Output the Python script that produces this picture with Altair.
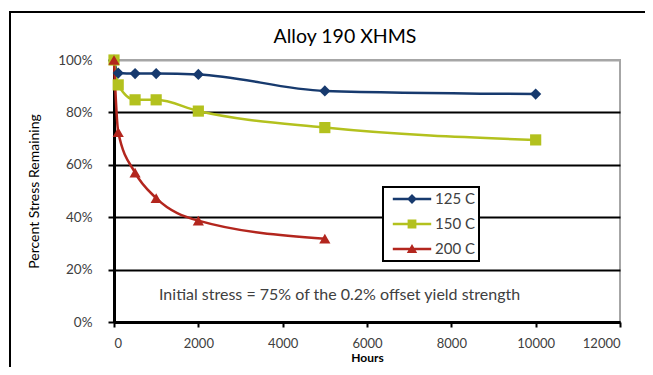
import altair as alt
import pandas as pd

# ---- data ----
hours_125 = [0, 100, 500, 1000, 2000, 5000, 10000]
vals_125 = [1.00, 0.95, 0.948, 0.948, 0.945, 0.882, 0.870]
hours_150 = [0, 100, 500, 1000, 2000, 5000, 10000]
vals_150 = [1.00, 0.905, 0.848, 0.848, 0.805, 0.742, 0.695]
hours_200 = [0, 100, 500, 1000, 2000, 5000]
vals_200 = [1.00, 0.725, 0.570, 0.473, 0.387, 0.318]
series_names = ["125 C", "150 C", "200 C"]
series_colors = ["#173a6e", "#b3c11e", "#b3261e"]
series_shapes = ["diamond", "square", "triangle-up"]

x_ticks = [0, 2000, 4000, 6000, 8000, 10000, 12000]
y_ticks = [0, 0.2, 0.4, 0.6, 0.8, 1.0]

title_text = "Alloy 190 XHMS"
x_title = "Hours"
y_title = "Percent Stress Remaining"
note_text = ["Initial stress = 75% of the 0.2% offset yield strength"]
note_x = [5350]
note_y = [0.103]

rows = []
for name, hs, vs in zip(series_names, [hours_125, hours_150, hours_200],
                        [vals_125, vals_150, vals_200]):
    for h, v in zip(hs, vs):
        rows.append({"series": name, "hours": h, "value": v})
df = pd.DataFrame(rows)

FONT = "Lato"
LABEL_COLOR = "#404040"

x_enc = alt.X("hours:Q",
              scale=alt.Scale(domain=[0, 12000], nice=False),
              axis=alt.Axis(values=x_ticks, format="d", grid=False,
                            domainColor="black", domainWidth=3,
                            tickColor="black", tickWidth=2, tickSize=5,
                            labelPadding=10, labelFontSize=13, labelFont=FONT,
                            labelColor=LABEL_COLOR,
                            title=x_title, titleFont=FONT, titleFontSize=12,
                            titleFontWeight="bold", titleColor="black",
                            titlePadding=2))
y_enc = alt.Y("value:Q",
              scale=alt.Scale(domain=[0, 1], nice=False),
              axis=alt.Axis(values=y_ticks, format="%", grid=True,
                            gridColor=alt.condition("datum.value >= 0.99",
                                                    alt.value("#a6a6a6"),
                                                    alt.value("black")),
                            gridWidth=2,
                            domainColor="black", domainWidth=3,
                            tickColor="black", tickWidth=2, tickSize=6,
                            labelPadding=16, labelFontSize=13.5, labelFont=FONT,
                            labelColor=LABEL_COLOR,
                            title=y_title, titleFont=FONT, titleFontSize=14,
                            titleFontWeight="normal", titleColor="black",
                            titlePadding=16))

color_scale = alt.Scale(domain=series_names, range=series_colors)

# legend glyph: a short line with the series marker on it (all filled paths)
bar = "M-2.4,-0.15L2.4,-0.15L2.4,0.15L-2.4,0.15Z"
shape_expr = (
    "datum.value === '125 C' ? '" + bar + "M0,-0.62L0.62,0L0,0.62L-0.62,0Z' : "
    "datum.value === '150 C' ? '" + bar + "M-0.55,-0.55L0.55,-0.55L0.55,0.55L-0.55,0.55Z' : "
    "'" + bar + "M0,-0.62L0.65,0.5L-0.65,0.5Z'"
)

legend = alt.Legend(
    orient="none", legendX=269, legendY=127, title=None,
    strokeColor="black", fillColor="white",
    padding=4, symbolSize=256, symbolOffset=17, labelOffset=15,
    rowPadding=9, labelFontSize=15, labelFont=FONT, labelColor=LABEL_COLOR,
    labelExpr="datum.label + '\u2003\u2003\u2002'",
    symbolType=alt.ExprRef(expr=shape_expr),
    symbolFillColor=alt.ExprRef(expr="scale('color', datum.value)"),
    symbolStrokeWidth=0, symbolOpacity=1,
)

lines = alt.Chart(df).mark_line(interpolate="monotone", strokeWidth=2.5).encode(
    x=x_enc, y=y_enc,
    color=alt.Color("series:N", scale=color_scale, legend=legend),
    order=alt.Order("hours:Q"),
    detail="series:N",
)

# one marker layer per series, each with its own marker shape and colour
point_layers = []
for name, col, shp in zip(series_names, series_colors, series_shapes):
    point_layers.append(
        alt.Chart(df).transform_filter(alt.datum.series == name)
        .mark_point(filled=True, size=125, opacity=1, shape=shp, fill=col,
                    strokeWidth=0)
        .encode(x="hours:Q", y="value:Q")
    )

note_df = pd.DataFrame({"text": note_text, "x": note_x, "y": note_y})
note = alt.Chart(note_df).mark_text(font=FONT, fontSize=16, color=LABEL_COLOR,
                                    align="center", baseline="middle").encode(
    x="x:Q", y="y:Q", text="text:N")

border = alt.Chart(alt.Data(values=[{}])).mark_rect(
    fill="white", fillOpacity=0, stroke="black", strokeWidth=2).encode(
    x=alt.value(-104), x2=alt.value(700), y=alt.value(-48), y2=alt.value(420))

chart = alt.layer(border, lines, *point_layers, note).properties(
    width=506, height=262,
    title=alt.TitleParams(title_text, font=FONT, fontSize=19.5,
                          fontWeight="normal", color="black",
                          anchor="middle", frame="group", dx=-22, offset=-36),
    autosize=alt.AutoSizeParams(type="none"),
    padding={"left": 106, "top": 52, "right": 25, "bottom": 45},
).configure_view(stroke="#a6a6a6", strokeWidth=2).configure_legend(strokeWidth=2)

chart.save("out.html", embed_options={"renderer": "svg", "actions": False})
